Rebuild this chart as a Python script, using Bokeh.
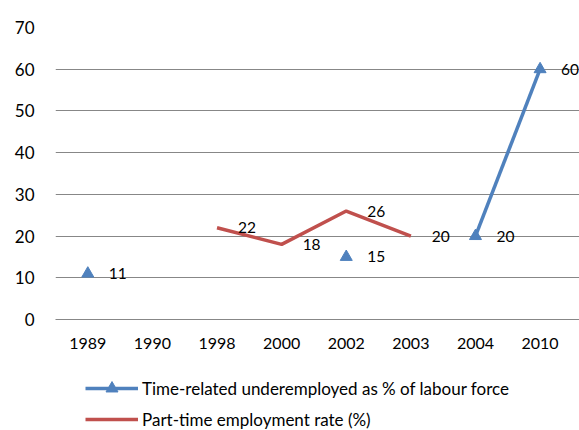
import math

from bokeh.core.properties import value
from bokeh.embed import file_html
from bokeh.layouts import column
from bokeh.models import (ColumnDataSource, Legend, LegendItem, LabelSet,
                          Range1d, FixedTicker)
from bokeh.plotting import figure
from bokeh.resources import INLINE

# Survey years (category axis) and the two series; None = no observation
years = ["1989", "1990", "1998", "2000", "2002", "2003", "2004", "2010"]
underemployed = [11, None, None, None, 15, None, 20, 60]
part_time = [None, None, 22, 18, 26, 20, None, None]

series_names = ["Time-related underemployed as % of labour force",
                "Part-time employment rate (%)"]
y_ticks = [0, 10, 20, 30, 40, 50, 60, 70]

BLUE = "#4F81BD"
RED = "#C0504D"
GRID = "#878787"
FONT = "Lato"

# one slot per year on the x axis
slots = list(range(len(years)))


def to_nan(vals):
    return [math.nan if v is None else v for v in vals]


def present(vals):
    xs, ys, labels = [], [], []
    for i, v in zip(slots, vals):
        if v is not None:
            xs.append(i)
            ys.append(v)
            labels.append(f"{v:.0f}")
    return ColumnDataSource(dict(x=xs, y=ys, label=labels))


def draw_series(fig):
    """Draw both series on fig; returns the renderers for the legend."""
    b_line = fig.line(slots, to_nan(underemployed), color=BLUE, line_width=3.5)
    r_line = fig.line(slots, to_nan(part_time), color=RED, line_width=3.5)
    src = present(underemployed)
    b_pts = fig.scatter("x", "y", source=src, marker="triangle", size=12,
                        color=BLUE)
    return b_line, b_pts, r_line, src


p = figure(width=579, height=355,
           x_range=Range1d(-0.5, len(years) - 0.39),
           y_range=Range1d(0, 70), output_backend="svg", toolbar_location=None,
           min_border_left=55, min_border_right=0, min_border_top=27,
           min_border_bottom=36)
p.outline_line_color = None
p.background_fill_color = "white"

blue_line, blue_pts, red_line, blue_src = draw_series(p)

# Value labels to the right of each point
for src in (blue_src, present(part_time)):
    p.add_layout(LabelSet(x="x", y="y", text="label", source=src,
                          x_offset=21, text_baseline="middle",
                          text_font=value(FONT), text_font_size="15.5px",
                          text_color="#000000"))

# Axes
p.xgrid.grid_line_color = None
p.ygrid.grid_line_color = GRID
p.ygrid.grid_line_width = 1
p.yaxis.ticker = FixedTicker(ticks=y_ticks)
p.yaxis.axis_line_color = None
p.yaxis.major_tick_line_color = None
p.yaxis.minor_tick_line_color = None
p.yaxis.major_tick_out = 0
p.yaxis.major_tick_in = 0
p.yaxis.major_label_standoff = 21
p.yaxis.major_label_text_font_size = "17px"

p.xaxis.ticker = FixedTicker(ticks=slots)
p.xaxis.major_label_overrides = {i: yr for i, yr in zip(slots, years)}
p.xaxis.axis_line_color = GRID
p.xaxis.axis_line_width = 1
p.xaxis.major_tick_line_color = None
p.xaxis.minor_tick_line_color = None
p.xaxis.major_tick_out = 0
p.xaxis.major_tick_in = 0
p.xaxis.major_label_standoff = 18
p.xaxis.major_label_text_font_size = "16px"
for ax in (p.xaxis, p.yaxis):
    ax.major_label_text_font = FONT
    ax.major_label_text_color = "#000000"

# Legend strip under the chart: the series are drawn out of its view,
# only the legend keys show
leg = figure(width=579, height=75, x_range=Range1d(-100, -99),
             y_range=Range1d(-100, -99), output_backend="svg",
             toolbar_location=None, min_border_left=55, min_border_right=0,
             min_border_top=0, min_border_bottom=0)
leg.axis.visible = False
leg.grid.grid_line_color = None
leg.outline_line_color = None
key_blue_line, key_blue_pts, key_red_line, _ = draw_series(leg)

legend = Legend(items=[
    LegendItem(label=series_names[0], renderers=[key_blue_line, key_blue_pts]),
    LegendItem(label=series_names[1], renderers=[key_red_line]),
], orientation="vertical", location=(30, -4), glyph_width=53, glyph_height=30,
    label_height=30, spacing=1, padding=0, margin=0, label_standoff=4,
    border_line_color=None, background_fill_alpha=0, label_text_font=FONT,
    label_text_font_size="17px", label_text_color="#000000")
leg.add_layout(legend)

layout = column(p, leg, spacing=0)
open("out.html", "w").write(file_html(layout, INLINE))
